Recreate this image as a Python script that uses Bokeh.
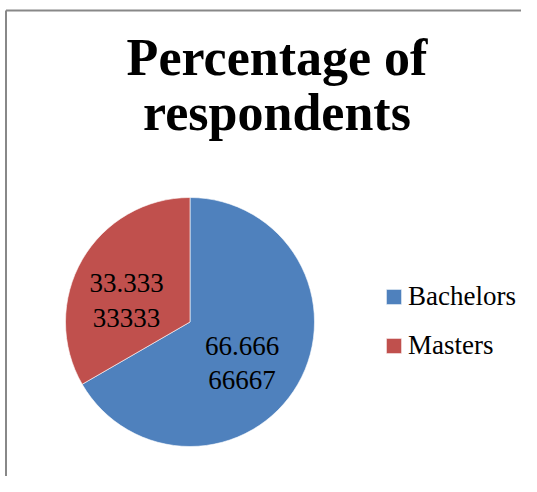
import math
from bokeh.plotting import figure
from bokeh.models import Range1d, ColumnDataSource, Legend, LegendItem
from bokeh.core.properties import value
from bokeh.embed import file_html
from bokeh.resources import INLINE

# ---- data ----
categories = ["Bachelors", "Masters"]
percentages = [66.66666667, 33.33333333]
colors = ["#4F81BD", "#C0504D"]
title_lines = ["Percentage of", "respondents"]

# ---- layout (pixels, origin at figure top-left) ----
W, H = 521, 476


def Y(py):
    return H - py


p = figure(width=W, height=H, output_backend="svg", toolbar_location=None,
           x_range=Range1d(0, W), y_range=Range1d(0, H),
           min_border=0, outline_line_color=None)
p.xaxis.visible = False
p.yaxis.visible = False
p.grid.visible = False
p.background_fill_color = "white"
p.border_fill_color = "white"

# chart border (left and top visible)
p.segment(x0=[5.5, 5.5], y0=[Y(10), Y(10)], x1=[5.5, W + 10], y1=[Y(H + 10), Y(10)],
          line_color="#888888", line_width=2)

# title
p.text(x=[276.5, 276.5], y=[Y(57), Y(112)], text=title_lines,
       text_font=value("Liberation Serif"), text_font_style="bold",
       text_font_size="52px", text_align="center", text_baseline="alphabetic",
       text_color="black")

# pie
cx, cy, r = 189.5, Y(321.5), 124.5
total = sum(percentages)
starts, ends = [], []
acc = 0.0
for v in percentages:
    starts.append(math.pi / 2 - acc / total * 2 * math.pi)
    acc += v
    ends.append(math.pi / 2 - acc / total * 2 * math.pi)

src = ColumnDataSource(dict(cat=categories, val=percentages, color=colors,
                            start=starts, end=ends))
wr = p.wedge(x=cx, y=cy, radius=r, start_angle="start", end_angle="end",
             direction="clock", fill_color="color", line_color="white",
             line_width=0.6, source=src)

# data labels
label_texts = []
for v in percentages:
    s = f"{v:.8f}"
    label_texts.append(s[:6] + "\n" + s[6:])
label_x = [241.5, 126.0]
label_y = [Y(362.5), Y(300.0)]
p.text(x=label_x, y=label_y, text=label_texts,
       text_font=value("Liberation Serif"), text_font_size="27px",
       text_align="center", text_baseline="middle", text_line_height=1.15,
       text_color="black")

# legend
items = [LegendItem(label=c, renderers=[wr], index=i) for i, c in enumerate(categories)]
legend = Legend(items=items, location=(384, H - 361), orientation="vertical",
                padding=0, margin=0, spacing=18, label_standoff=5,
                glyph_width=19, glyph_height=19, label_height=30,
                label_text_font="Liberation Serif", label_text_font_size="27px",
                label_text_color="black", background_fill_alpha=0,
                border_line_color=None)
p.add_layout(legend, "center")

open("out.html", "w").write(file_html(p, INLINE))
